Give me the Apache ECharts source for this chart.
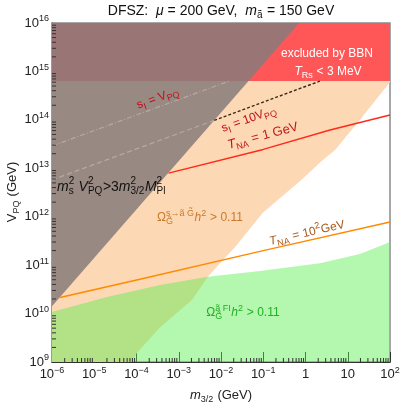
<!DOCTYPE html>
<html>
<head>
<meta charset="utf-8">
<script src="https://cdn.jsdelivr.net/npm/echarts@6/dist/echarts.min.js"></script>
<style>
  html, body { margin: 0; padding: 0; background: #fff; }
  #chart { width: 403px; height: 405px; }
</style>
</head>
<body>
<div id="chart"></div>
<script>
// every value is log10: x = m3/2 (GeV), y = V_PQ (GeV)
var xTicks = [-6, -5, -4, -3, -2, -1, 0, 1, 2]
var yTicks = [9, 10, 11, 12, 13, 14, 15, 16]

// right edge of the s -> a G dark matter bound
var peachEdge = [[-4.11, 9.0], [-3.99, 9.19], [-3.44, 9.72], [-2.69, 10.28], [-2.31, 10.76], [-1.95, 11.11],
  [-1.67, 11.37], [-1.01, 12.08], [-0.1, 12.76], [0.41, 13.17], [0.7, 13.38], [1.29, 14.0], [2.0, 14.78]]
// top edge of the freeze-in bound
var greenEdge = [[-6, 10.03], [-4.7, 10.34], [-3.44, 10.59], [-2.31, 10.76], [-1.08, 10.88], [0.34, 11.04],
  [1.29, 11.23], [2.0, 11.48]]
// m_s^2 V^2 > 3 m^2 Mpl^2 edge
var grayEdge = [[-6, 10.15], [-0.15, 16]]
var bbnFloor = 14.8

var tna1 = [[-3.24, 12.9], [-1, 13.39], [0.58, 13.79], [2, 14.1]]
var tna100 = [[-5.81, 10.33], [-3.92, 10.71], [-1, 11.3], [2, 11.89]]
var sIeqV = [[-6, 13.46], [-1.81, 14.8]]
var sI10VHidden = [[-6, 12.76], [-2.16, 13.99]]
var sI10V = [[-2.16, 13.99], [0.34, 14.8]]

var xMin = xTicks[0], xMax = xTicks[xTicks.length - 1]
var yMin = yTicks[0], yMax = yTicks[yTicks.length - 1]
var FONT = '"Liberation Sans", Arial, sans-serif'

var chart = echarts.init(document.getElementById('chart'))

var ctx = document.createElement('canvas').getContext('2d')
function fontOf (size, italic) { return (italic ? 'italic ' : '') + size + 'px ' + FONT }
function widthOf (t, size, italic) { ctx.font = fontOf(size, italic); return ctx.measureText(t).width }

// small math-ish text: parts are [text, kind], kind n / i / sub / sup / ss ([sub, sup])
function mathText (x, y, size, color, parts, rot, align) {
  var small = Math.round(size * 0.72)
  var kids = []
  var cx = 0
  parts.forEach(function (p) {
    var t = p[0], k = p[1]
    if (k === 'n' || k === 'i') {
      kids.push({ type: 'text', z: 100, x: cx, y: 0, style: { text: t, font: fontOf(size, k === 'i'), fill: color, verticalAlign: 'middle' } })
      cx += widthOf(t, size, k === 'i')
    } else {
      var sub = k === 'sub' ? t : (k === 'ss' ? t[0] : '')
      var sup = k === 'sup' ? t : (k === 'ss' ? t[1] : '')
      var w = 0
      if (sub) {
        kids.push({ type: 'text', z: 100, x: cx, y: size * 0.32, style: { text: sub, font: fontOf(small, false), fill: color, verticalAlign: 'middle' } })
        w = widthOf(sub, small, false)
      }
      if (sup) {
        kids.push({ type: 'text', z: 100, x: cx, y: -size * 0.4, style: { text: sup, font: fontOf(small, false), fill: color, verticalAlign: 'middle' } })
        w = Math.max(w, widthOf(sup, small, false))
      }
      cx += w + 0.5
    }
  })
  var off = align === 'center' ? -cx / 2 : 0
  kids.forEach(function (c) { c.x += off })
  return { type: 'group', x: x, y: y, z: 100, rotation: (rot || 0) * Math.PI / 180, silent: true, children: kids }
}

function area (pts, color, z) {
  return {
    type: 'custom',
    coordinateSystem: 'cartesian2d',
    silent: true,
    z: z,
    data: [[xMin, yMin]],
    renderItem: function (params, api) {
      return {
        type: 'polygon',
        shape: { points: pts.map(function (p) { return api.coord(p) }) },
        style: { fill: color }
      }
    }
  }
}

function curve (pts, color, width, dash, z) {
  return {
    type: 'line',
    data: pts,
    symbol: 'none',
    silent: true,
    z: z,
    lineStyle: { color: color, width: width, type: dash || 'solid' },
    animation: false
  }
}

// log minor ticks at 2..9 inside each decade
function minorTicks (ticks) {
  var out = []
  for (var i = 0; i < ticks.length - 1; i++) {
    for (var k = 2; k < 10; k++) out.push(ticks[i] + Math.log10(k))
  }
  return out
}

function tickSeries (onX) {
  var vals = minorTicks(onX ? xTicks : yTicks)
  return {
    type: 'custom',
    coordinateSystem: 'cartesian2d',
    silent: true,
    z: 20,
    data: vals.map(function (v) { return onX ? [v, yMin] : [xMin, v] }),
    renderItem: function (params, api) {
      var p = api.coord([api.value(0), api.value(1)])
      return {
        type: 'line',
        shape: onX ? { x1: p[0], y1: p[1], x2: p[0], y2: p[1] - 4 } : { x1: p[0], y1: p[1], x2: p[0] + 4, y2: p[1] },
        style: { stroke: '#333', lineWidth: 1 }
      }
    }
  }
}

var peachPoly = [[xMin, yMin]].concat(peachEdge, [[xMax, yMax], [xMin, yMax]])
var greenPoly = [[xMin, yMin]].concat(greenEdge, [[xMax, yMin]])
var grayPoly = grayEdge.concat([[xMin, yMax]])
var bbnPoly = [[xMin, bbnFloor], [xMax, bbnFloor], [xMax, yMax], [xMin, yMax]]

var labelRich = {
  b: { fontSize: 13, fontFamily: FONT, color: '#222', lineHeight: 17 },
  s: { fontSize: 9, fontFamily: FONT, color: '#222', verticalAlign: 'top', lineHeight: 9 }
}

function expLabel (v) {
  if (v === 0) return '{b|1}'
  if (v === 1) return '{b|10}'
  return '{b|10}{s|' + String(v).replace('-', '\u2212') + '}'
}

var option = {
  animation: false,
  grid: { left: 52, right: 13, top: 23, bottom: 43, show: true, borderColor: '#8a8a8a', borderWidth: 1.5, backgroundColor: 'transparent' },
  xAxis: {
    type: 'value', min: xMin, max: xMax, interval: 1,
    axisLine: { show: true, onZero: false, lineStyle: { color: '#333', width: 1.2 } },
    axisTick: { inside: true, length: 10, lineStyle: { color: '#333' } },
    splitLine: { show: false },
    axisLabel: { margin: 4, formatter: expLabel, rich: labelRich }
  },
  yAxis: {
    type: 'value', min: yMin, max: yMax, interval: 1,
    axisLine: { show: true, onZero: false, lineStyle: { color: '#333', width: 1.2 } },
    axisTick: { inside: true, length: 10, lineStyle: { color: '#333' } },
    splitLine: { show: false },
    axisLabel: { margin: 3, formatter: expLabel, rich: labelRich }
  },
  series: [
    area(peachPoly, '#fdd8b5', 1),
    area(greenPoly, 'rgba(80,237,70,0.43)', 2),
    area(bbnPoly, '#ff5757', 3),
    area(grayPoly, 'rgba(136,124,122,0.86)', 5),
    curve(sIeqV, '#b3aaa3', 1.2, [5, 2, 1, 2], 6),
    curve(sI10VHidden, '#b3aaa3', 1.2, [5, 3], 6),
    curve(sI10V, '#3b2a1a', 1.4, [3, 2], 6),
    curve(tna1, '#ff2a1a', 1.5, null, 6),
    curve(tna100, '#ff8a00', 1.5, null, 6),
    tickSeries(true),
    tickSeries(false)
  ],
  graphic: [
    mathText(221, 11, 14, '#111', [['DFSZ:  ', 'n'], ['\u03bc', 'i'], [' = 200 GeV,  ', 'n'], ['m', 'i'], ['\u00e3', 'sub'], [' = 150 GeV', 'n']], 0, 'center'),
    mathText(221, 395, 13, '#222', [['m', 'i'], ['3/2', 'sub'], [' (GeV)', 'n']], 0, 'center'),
    mathText(12, 192, 13, '#222', [['V', 'n'], ['PQ', 'sub'], [' (GeV)', 'n']], 90, 'center'),
    mathText(327, 54, 12, '#fff', [['excluded by BBN', 'n']], 0, 'center'),
    mathText(328, 72, 12, '#fff', [['T', 'i'], ['Rs', 'sub'], [' < 3 MeV', 'n']], 0, 'center'),
    mathText(158, 98, 12, '#c0101a', [['s', 'n'], ['I', 'sub'], [' = V', 'n'], ['PQ', 'sub']], 20, 'center'),
    mathText(249, 119, 12, '#c0101a', [['s', 'n'], ['I', 'sub'], [' = 10V', 'n'], ['PQ', 'sub']], 20, 'center'),
    mathText(263, 136, 13, '#c01818', [['T', 'i'], ['NA', 'sub'], [' = 1 GeV', 'n']], 15, 'center'),
    mathText(307, 233, 12, '#a8581a', [['T', 'i'], ['NA', 'sub'], [' = 10', 'n'], ['2', 'sup'], ['GeV', 'n']], 13, 'center'),
    mathText(57, 187, 14, '#111', [['m', 'i'], [['s', '2'], 'ss'], [' V', 'i'], [['PQ', '2'], 'ss'], ['>3', 'n'], ['m', 'i'], [['3/2', '2'], 'ss'], ['M', 'i'], [['Pl', '2'], 'ss']], 0, 'left'),
    mathText(200, 218, 12, '#c87a2a', [['\u03a9', 'n'], [['G\u0303', 's\u2192\u00e3 G\u0303'], 'ss'], ['h', 'i'], ['2', 'sup'], [' > 0.11', 'n']], 0, 'center'),
    mathText(243, 313, 12, '#22b022', [['\u03a9', 'n'], [['G\u0303', '\u00e3 FI'], 'ss'], ['h', 'i'], ['2', 'sup'], [' > 0.11', 'n']], 0, 'center')
  ]
}

chart.setOption(option)
</script>
</body>
</html>
